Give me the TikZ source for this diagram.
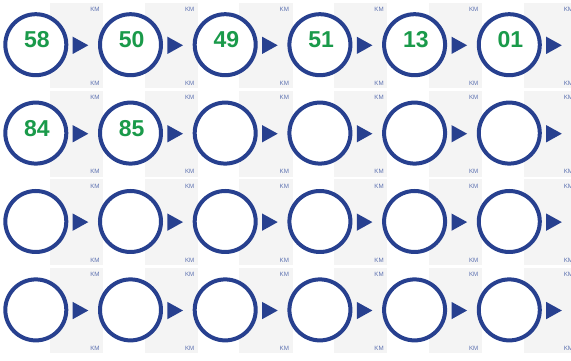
\documentclass[tikz,border=0pt]{standalone}
\usepackage{fontspec}
\setmainfont{Liberation Sans}
\usetikzlibrary{positioning,calc}
\definecolor{ringblue}{HTML}{27408F}
\definecolor{kmblue}{HTML}{5B70B0}
\definecolor{numgreen}{HTML}{1A9A4A}
\definecolor{panelgray}{HTML}{F4F4F4}

\begin{document}
\begin{tikzpicture}[
    x=1pt, y=1pt,
    every node/.style={font=\sffamily},
    panel/.style={
        fill=panelgray, draw=none,
        minimum width=53.3pt, minimum height=85.6pt,
        inner sep=0pt
    },
    ring/.style={
        circle, draw=ringblue, fill=white, line width=4pt,
        minimum size=61pt, inner sep=0pt
    },
    kmlabel/.style={
        font=\fontsize{6.2}{7}\selectfont, color=kmblue, inner sep=0pt
    },
    numlabel/.style={
        font=\fontsize{23}{26}\selectfont\bfseries, color=numgreen, inner sep=0pt
    },
    pointer/.style={fill=ringblue},
]
\useasboundingbox (0,0) rectangle (571,361);

% ===== Gray panels with KM marks =====
\foreach \row in {0,...,3} {
  \foreach \col in {0,...,5} {
    \node[panel] (pan-\row-\col) at (76.7+94.7*\col, 315.5-88.4*\row) {};
    \node[kmlabel] (kmt-\row-\col) at ($(pan-\row-\col.north east)+(-8.6,-6.8)$) {KM};
    \node[kmlabel] (kmb-\row-\col) at ($(pan-\row-\col.south east)+(-8.6,5.3)$) {KM};
  }
}

% ===== Rings and arrow marks =====
\foreach \row in {0,...,3} {
  \foreach \col in {0,...,5} {
    \node[ring] (ring-\row-\col) at (35.8+94.7*\col, 316.3-88.4*\row) {};
    \fill[pointer] ($(ring-\row-\col.center)+(36.9,8.0)$) -- ++(15.6,-8.6) -- ++(-15.6,-8.7) -- cycle;
  }
}

% ===== Numbers =====
\foreach \num [count=\i from 0] in {58,50,49,51,13,01,84,85} {
  \pgfmathtruncatemacro{\row}{\i/6}
  \pgfmathtruncatemacro{\col}{mod(\i,6)}
  \node[numlabel] (num-\row-\col) at ($(ring-\row-\col.center)+(1.2,4.7)$) {\num};
}

\end{tikzpicture}
\end{document}
